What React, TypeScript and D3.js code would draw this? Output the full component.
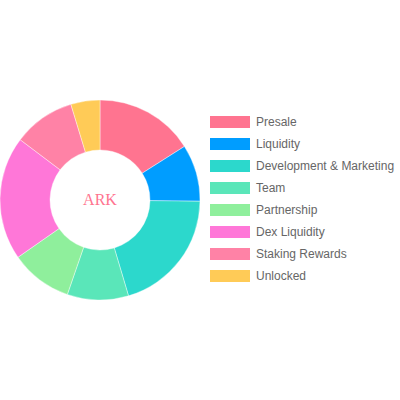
import React from 'react';
import * as d3 from 'd3';

const labels = ['Presale', 'Liquidity', 'Development & Marketing', 'Team', 'Partnership', 'Dex Liquidity', 'Staking Rewards', 'Unlocked'];
const values = [16, 9.2, 20.2, 9.9, 10, 20, 10, 4.7];
const colors = ['#ff7490', '#009dff', '#2cd8cc', '#5ae6b9', '#8fef9c', '#ff77d8', '#ff82a6', '#ffcb57'];

export default function App() {
  const cx = 100, cy = 200, outerR = 100, innerR = 50;
  const pie = d3.pie<number>().sort(null).value((d) => d);
  const arcs = pie(values);
  const arc = d3.arc<d3.PieArcDatum<number>>().innerRadius(innerR).outerRadius(outerR);
  const legendY = d3.scaleBand<number>().domain(d3.range(labels.length)).range([111, 287]);
  return (
    <svg width={400} height={400} style={{ position: 'absolute', left: 0, top: 0 }}>
      <rect width={400} height={400} fill="#fff" />
      <g transform={`translate(${cx},${cy})`}>
        {arcs.map((a, i) => (
          <path key={i} d={arc(a) || ''} fill={colors[i]} stroke="#fff" strokeWidth={0.4} />
        ))}
        <text x={0} y={3} textAnchor="middle" dominantBaseline="middle" fontFamily="'Liberation Serif', serif" fontSize={16} fill="#ff7490" dy="-0.1em">ARK</text>
      </g>
      {labels.map((l, i) => {
        const y = legendY(i)! + legendY.bandwidth() / 2;
        return (
          <g key={l}>
            <rect x={210} y={y - 6} width={40} height={12} fill={colors[i]} />
            <text x={256} y={y + 3.5} fontFamily="'Liberation Sans', Arial, sans-serif" fontSize={12} fill="#666">{l}</text>
          </g>
        );
      })}
    </svg>
  );
}
